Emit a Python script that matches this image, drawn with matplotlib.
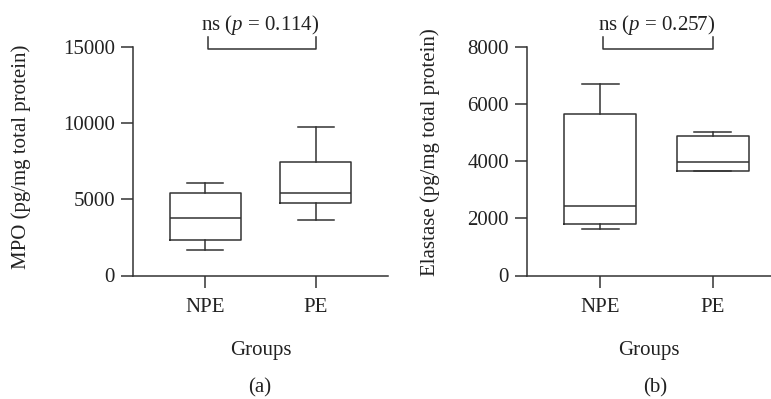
import matplotlib
matplotlib.use("Agg")
import matplotlib.pyplot as plt

plt.rcParams["font.family"] = ["Liberation Serif", "DejaVu Serif"]
plt.rcParams["mathtext.fontset"] = "custom"
plt.rcParams["mathtext.it"] = "Liberation Serif:italic"
plt.rcParams["mathtext.rm"] = "Liberation Serif"

GROUPS = ["NPE", "PE"]

# box stats: whisker low, q1, median, q3, whisker high
MPO_LOW = [1700, 3620]
MPO_Q1 = [2310, 4760]
MPO_MED = [3800, 5440]
MPO_Q3 = [5440, 7470]
MPO_HIGH = [6050, 9760]

ELA_LOW = [1640, 3640]
ELA_Q1 = [1790, 3640]
ELA_MED = [2430, 3970]
ELA_Q3 = [5630, 4890]
ELA_HIGH = [6690, 5030]

MPO_TICKS = [0, 5000, 10000, 15000]
ELA_TICKS = [0, 2000, 4000, 6000, 8000]

LINE = "#333333"
TXT = "#222222"
FS = 15
W, H = 771, 399
AX_TOP, AX_BOT = 46.7, 275.5
AX_H = AX_BOT - AX_TOP


def stats(low, q1, med, q3, high):
    return [dict(whislo=low[i], q1=q1[i], med=med[i], q3=q3[i], whishi=high[i],
                 fliers=[], label=GROUPS[i]) for i in range(len(GROUPS))]


def panel(ax, st, ticks, ylabel, ptext, bracket_y, tip_y, xmax,
          ylab_x, ylab_y, ax_left, ax_w):
    props = dict(color=LINE, linewidth=1.1)
    ax.bxp(st, positions=[1, 2], widths=0.64, showfliers=False,
           boxprops=props, medianprops=props, whiskerprops=props,
           capprops=props, capwidths=0.33)
    ax.set_xlim(0.35, xmax)
    ax.set_ylim(ticks[0], ticks[-1])
    ax.set_yticks(ticks)
    ax.set_xticks([1, 2])
    ax.set_xticklabels(GROUPS)
    for s in ["top", "right"]:
        ax.spines[s].set_visible(False)
    for s in ["left", "bottom"]:
        ax.spines[s].set_color(LINE)
        ax.spines[s].set_linewidth(1.1)
    ax.tick_params(colors=LINE, labelcolor=TXT, labelsize=FS,
                   length=8.5, width=1.1)
    ax.tick_params(axis="y", pad=4.5)
    ax.tick_params(axis="x", pad=8)
    ax.set_ylabel(ylabel, fontsize=FS, color=TXT)
    ax.yaxis.set_label_coords((ylab_x - ax_left) / ax_w, (AX_BOT - ylab_y) / AX_H)
    ax.set_xlabel("Groups", fontsize=FS, color=TXT)
    ax.xaxis.set_label_coords(0.5, -(350 - AX_BOT) / AX_H)
    ax.xaxis.label.set_va("center")
    ax.yaxis.label.set_va("center")
    # significance bracket
    ax.plot([1.03, 1.03, 2.0, 2.0], [tip_y, bracket_y, bracket_y, tip_y],
            color=LINE, linewidth=1.1, clip_on=False)
    ax.text(1.5, 1 + (AX_TOP - 25) / AX_H, ptext, ha="center", va="center",
            fontsize=FS, color=TXT, transform=ax.get_xaxis_transform(), clip_on=False)


fig = plt.figure(figsize=(7.71, 3.99), dpi=100)
ax1 = fig.add_axes([133 / W, 1 - AX_BOT / H, (388 - 133) / W, AX_H / H])
ax2 = fig.add_axes([527 / W, 1 - AX_BOT / H, (771 - 527) / W, AX_H / H])

panel(ax1, stats(MPO_LOW, MPO_Q1, MPO_MED, MPO_Q3, MPO_HIGH), MPO_TICKS,
      "MPO (pg/mg total protein)", r"ns ($p$ = 0.114)", 14850, 15610, 2.65,
      21, 157, 133, 388 - 133)
panel(ax2, stats(ELA_LOW, ELA_Q1, ELA_MED, ELA_Q3, ELA_HIGH), ELA_TICKS,
      "Elastase (pg/mg total protein)", r"ns ($p$ = 0.257)", 7915, 8325, 2.52,
      430, 152, 527, 771 - 527)

fig.text(260 / W, 1 - 388 / H, "(a)", ha="center", va="center", fontsize=FS, color=TXT)
fig.text(655 / W, 1 - 388 / H, "(b)", ha="center", va="center", fontsize=FS, color=TXT)

fig.savefig("out.png", dpi=100)
